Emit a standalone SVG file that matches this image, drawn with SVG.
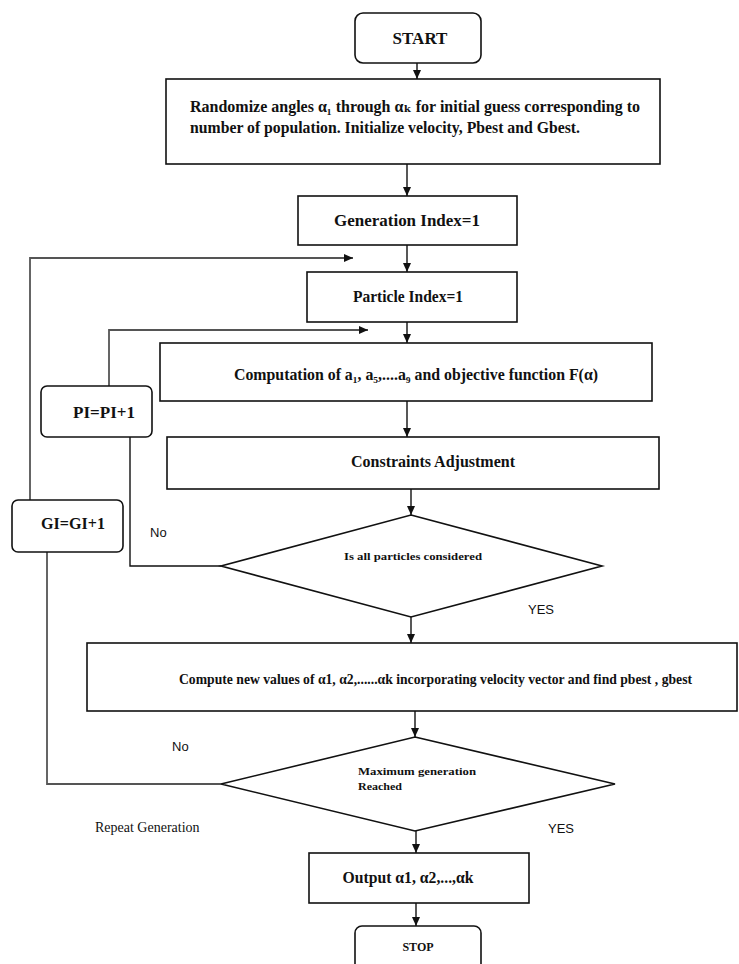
<svg xmlns="http://www.w3.org/2000/svg" width="739" height="964" viewBox="0 0 739 964">
<style>
.box{fill:#fff;stroke:#111;stroke-width:1.6}
.s{font-family:"Liberation Sans",Arial,sans-serif;fill:#111}
.ln{fill:none;stroke:#111;stroke-width:1.4}
.gl{fill:none;stroke:#555;stroke-width:1.8}
</style>
<defs>
<marker id="ar" markerWidth="10" markerHeight="10" refX="9" refY="5" orient="auto" markerUnits="userSpaceOnUse">
<path d="M0,1 L9,5 L0,9 Z" fill="#111"/>
</marker>
</defs>
<rect width="739" height="964" fill="#fff"/>
<g id="connectors">
<line class="ln" x1="417" y1="63" x2="417" y2="79" marker-end="url(#ar)"/>
<line class="ln" x1="407" y1="164" x2="407" y2="196" marker-end="url(#ar)"/>
<line class="ln" x1="407" y1="245" x2="407" y2="272" marker-end="url(#ar)"/>
<line class="ln" x1="407" y1="322" x2="407" y2="343" marker-end="url(#ar)"/>
<line class="ln" x1="407" y1="401" x2="407" y2="437" marker-end="url(#ar)"/>
<line class="ln" x1="411" y1="489" x2="411" y2="515" marker-end="url(#ar)"/>
<line class="ln" x1="411" y1="617" x2="411" y2="643" marker-end="url(#ar)"/>
<line class="ln" x1="415" y1="711" x2="415" y2="737" marker-end="url(#ar)"/>
<line class="ln" x1="416" y1="830" x2="416" y2="853" marker-end="url(#ar)"/>
<line class="ln" x1="416" y1="903" x2="416" y2="926" marker-end="url(#ar)"/>
<polyline class="gl" points="30,500 30,258 353,258" marker-end="url(#ar)"/>
<polyline class="gl" points="109,386 109,330 368,330" marker-end="url(#ar)"/>
<polyline class="ln" points="221,566 130,566 130,437"/>
<polyline class="gl" points="47,552 47,784 221,784"/>
</g>
<g font-family="Liberation Serif, DejaVu Serif, serif" font-weight="700" fill="#111">
<g id="start">
<rect class="box" x="355" y="13" width="126" height="50" rx="8"/>
<text x="420" y="44" font-size="17" text-anchor="middle">START</text>
</g>
<g id="randomize">
<rect class="box" x="166" y="79" width="494" height="85"/>
<text x="190" y="112" font-size="17" textLength="450" lengthAdjust="spacingAndGlyphs">Randomize angles  α₁ through αₖ for initial guess corresponding to</text>
<text x="190" y="133" font-size="17" textLength="390" lengthAdjust="spacingAndGlyphs">number of population. Initialize velocity, Pbest and Gbest.</text>
</g>
<g id="generation">
<rect class="box" x="298" y="196" width="219" height="49"/>
<text x="407" y="226" font-size="16" text-anchor="middle" textLength="146" lengthAdjust="spacingAndGlyphs">Generation Index=1</text>
</g>
<g id="particle">
<rect class="box" x="307" y="272" width="210" height="50"/>
<text x="408" y="302" font-size="16" text-anchor="middle" textLength="110" lengthAdjust="spacingAndGlyphs">Particle Index=1</text>
</g>
<g id="computation">
<rect class="box" x="160" y="343" width="492" height="58"/>
<text x="234" y="380" font-size="17" textLength="364" lengthAdjust="spacingAndGlyphs">Computation of a₁, a₅,....a₉ and objective function F(α)</text>
</g>
<g id="pi">
<rect class="box" x="41" y="386" width="111" height="51" rx="6"/>
<text x="104" y="418" font-size="17" text-anchor="middle" textLength="62" lengthAdjust="spacingAndGlyphs">PI=PI+1</text>
</g>
<g id="constraints">
<rect class="box" x="167" y="437" width="492" height="52"/>
<text x="433" y="467" font-size="16" text-anchor="middle" textLength="164" lengthAdjust="spacingAndGlyphs">Constraints Adjustment</text>
</g>
<g id="gi">
<rect class="box" x="12" y="500" width="111" height="52" rx="6"/>
<text x="73" y="529" font-size="17" text-anchor="middle" textLength="64" lengthAdjust="spacingAndGlyphs">GI=GI+1</text>
</g>
<g id="decision1">
<polygon class="box" points="411,515 602,566 411,617 221,566"/>
<text x="413" y="560" font-size="10" text-anchor="middle" textLength="138" lengthAdjust="spacingAndGlyphs">Is all particles considered</text>
</g>
<g id="compute">
<rect class="box" x="87" y="643" width="650" height="68"/>
<text x="179" y="684" font-size="14" textLength="513" lengthAdjust="spacingAndGlyphs">Compute new values of α1, α2,......αk incorporating velocity vector and find pbest , gbest</text>
</g>
<g id="decision2">
<polygon class="box" points="415,737 615,784 415,831 221,784"/>
<text x="358" y="775" font-size="11" textLength="118" lengthAdjust="spacingAndGlyphs">Maximum  generation</text>
<text x="358" y="790" font-size="11" textLength="44" lengthAdjust="spacingAndGlyphs">Reached</text>
</g>
<g id="output">
<rect class="box" x="309" y="853" width="220" height="50"/>
<text x="408" y="883" font-size="17" text-anchor="middle" textLength="131" lengthAdjust="spacingAndGlyphs">Output α1, α2,...,αk</text>
</g>
<g id="stop">
<rect class="box" x="355" y="926" width="126" height="50" rx="7"/>
<text x="418" y="951" font-size="12" text-anchor="middle">STOP</text>
</g>
</g>
<g id="labels">
<text class="s" x="150" y="537" font-size="13">No</text>
<text class="s" x="528" y="614" font-size="13">YES</text>
<text class="s" x="172" y="751" font-size="13">No</text>
<text class="s" x="548" y="833" font-size="13">YES</text>
<text x="95" y="832" font-size="14" font-family="Liberation Serif, DejaVu Serif, serif" fill="#111">Repeat Generation</text>
</g>
</svg>
